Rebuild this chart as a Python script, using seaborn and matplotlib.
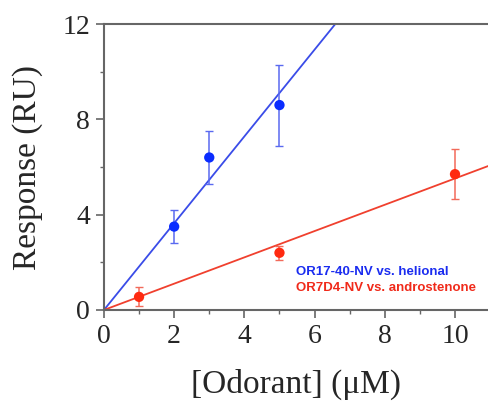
import numpy as np
import pandas as pd
import matplotlib
matplotlib.use("Agg")
import matplotlib.pyplot as plt
import seaborn as sns
from matplotlib.ticker import MultipleLocator

# data
blue_x = [2, 3, 5]
blue_y = [3.5, 6.4, 8.6]
blue_err = [0.7, 1.1, 1.7]
red_x = [1, 5, 10]
red_y = [0.55, 2.4, 5.7]
red_err = [0.4, 0.3, 1.05]
blue_label = "OR17-40-NV vs. helional"
red_label = "OR7D4-NV vs. androstenone"

sns.set_style("ticks")
plt.rcParams['font.family'] = ['Liberation Serif', 'DejaVu Serif']

fig = plt.figure(figsize=(4.88, 4.01), dpi=100)
ax = fig.add_axes([0.213, 0.227, 0.787, 0.713])

# linear fits through the origin
def slope(x, y):
    x = np.asarray(x, float); y = np.asarray(y, float)
    return (x * y).sum() / (x * x).sum()

xfit = np.array([0, 11.0])
fits = pd.DataFrame({
    "x": np.concatenate([xfit, xfit]),
    "y": np.concatenate([slope(blue_x, blue_y) * xfit, slope(red_x, red_y) * xfit]),
    "s": ["blue"] * 2 + ["red"] * 2,
})
sns.lineplot(data=fits, x="x", y="y", hue="s", palette={"blue": "#3a4ce8", "red": "#f0402e"},
             lw=1.3, legend=False, ax=ax)

pts = pd.DataFrame({
    "x": blue_x + red_x,
    "y": blue_y + red_y,
    "s": ["blue"] * 3 + ["red"] * 3,
})
ax.errorbar(blue_x, blue_y, yerr=blue_err, fmt="none", ecolor="#5a6af0", elinewidth=1.1, capsize=3)
ax.errorbar(red_x, red_y, yerr=red_err, fmt="none", ecolor="#f26a5a", elinewidth=1.1, capsize=3)
sns.scatterplot(data=pts, x="x", y="y", hue="s", palette={"blue": "#0a2cff", "red": "#ff2a10"},
                s=55, edgecolor="none", legend=False, ax=ax, zorder=5)

ax.set_xlim(0, 10.94)
ax.set_ylim(0, 12)
ax.xaxis.set_major_locator(MultipleLocator(2))
ax.xaxis.set_minor_locator(MultipleLocator(1))
ax.yaxis.set_major_locator(MultipleLocator(4))
ax.yaxis.set_minor_locator(MultipleLocator(2))
ax.tick_params(which="major", direction="out", length=6, width=1.2, color="#666666", labelsize=20, pad=4)
ax.tick_params(which="minor", direction="out", length=3, width=1.0, color="#666666")
for side in ["left", "bottom", "top"]:
    ax.spines[side].set_color("#666666")
    ax.spines[side].set_linewidth(1.5)
ax.spines["right"].set_visible(False)
ax.spines["top"].set_visible(True)

ax.set_xlabel("[Odorant] (\u03bcM)", fontsize=24, labelpad=14)
ax.set_ylabel("Response (RU)", fontsize=24, labelpad=14)

ax.text(0.50, 0.123, blue_label, transform=ax.transAxes, color="#1a2cf0", fontsize=9.5,
        fontweight="bold", family=["Liberation Sans", "DejaVu Sans"])
ax.text(0.50, 0.068, red_label, transform=ax.transAxes, color="#f02a1a", fontsize=9.5,
        fontweight="bold", family=["Liberation Sans", "DejaVu Sans"])

fig.savefig("out.png", dpi=100)
